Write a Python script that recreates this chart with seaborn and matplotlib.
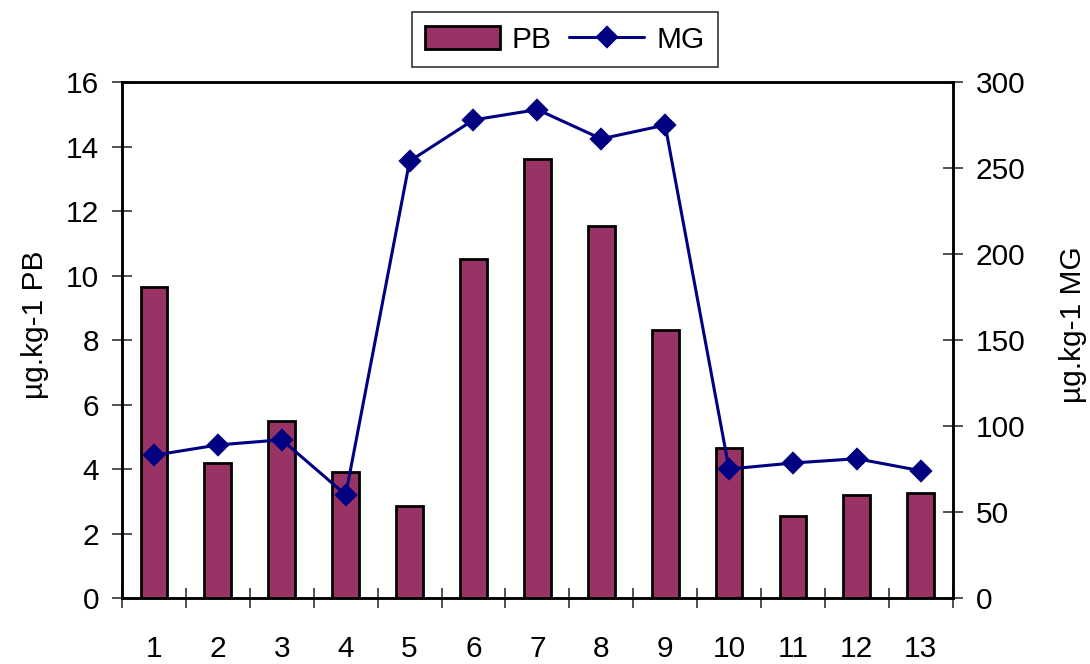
import matplotlib
matplotlib.use('Agg')
import matplotlib.pyplot as plt
import seaborn as sns
import numpy as np
import pandas as pd

# data
samples = ['1', '2', '3', '4', '5', '6', '7', '8', '9', '10', '11', '12', '13']
pb = [9.65, 4.2, 5.5, 3.9, 2.85, 10.5, 13.6, 11.55, 8.3, 4.65, 2.55, 3.2, 3.25]
mg = [83, 89, 92, 60, 254, 278, 284, 267, 275, 75, 78.5, 81, 74]

pb_ticks = [0, 2, 4, 6, 8, 10, 12, 14, 16]
mg_ticks = [0, 50, 100, 150, 200, 250, 300]

df = pd.DataFrame({'sample': samples, 'PB': pb, 'MG': mg})

sns.set_style('white')
plt.rcParams['font.family'] = ['Liberation Sans', 'DejaVu Sans']
plt.rcParams['text.color'] = 'black'
plt.rcParams['xtick.color'] = 'black'
plt.rcParams['ytick.color'] = 'black'
plt.rcParams['axes.labelcolor'] = 'black'
FS = 21.5

fig = plt.figure(figsize=(10.9, 6.64), dpi=100)
ax = fig.add_axes([0.112, 0.0994, 0.762, 0.777])

# bars (left axis)
sns.barplot(data=df, x='sample', y='PB', color='#993366', saturation=1,
            width=0.42, edgecolor='black', linewidth=2, label='PB', ax=ax)

# line (right axis)
ax2 = ax.twinx()
sns.pointplot(data=df, x='sample', y='MG', color='#000080', markers='D',
              markersize=10, linewidth=2.2, label='MG', ax=ax2)

ax.set_xlim(-0.5, len(samples) - 0.5)
ax2.set_xlim(-0.5, len(samples) - 0.5)
ax.set_ylim(0, 16)
ax2.set_ylim(0, 300)
ax.set_yticks(pb_ticks)
ax2.set_yticks(mg_ticks)

# tick marks between categories, labels at categories
ax.set_xticks(np.arange(len(samples) + 1) - 0.5, minor=True)
ax.tick_params(axis='x', which='major', length=0, pad=27, labelsize=FS)
ax.tick_params(axis='x', which='minor', direction='inout', length=15,
               width=1.2, color='#333333', bottom=True)
ax.tick_params(axis='y', direction='inout', length=15, width=1.2,
               color='#333333', pad=9, labelsize=FS, left=True)
ax2.tick_params(axis='y', direction='inout', length=15, width=1.2,
                color='#333333', pad=9, labelsize=FS, right=True)

ax.set_xlabel('')
ax.set_ylabel('µg.kg-1 PB', fontsize=FS)
ax2.set_ylabel('µg.kg-1 MG', fontsize=FS, rotation=90)
ax.yaxis.set_label_coords(-0.088, 0.53)
ax2.yaxis.set_label_coords(1.128, 0.53)

for a in (ax, ax2):
    for s in a.spines.values():
        s.set_visible(True)
        s.set_color('black')
        s.set_linewidth(1.8)

# combined legend on top
h1, l1 = ax.get_legend_handles_labels()
h2, l2 = ax2.get_legend_handles_labels()
for a in (ax, ax2):
    if a.get_legend() is not None:
        a.get_legend().remove()
leg = fig.legend(h1 + h2, l1 + l2, loc='center', bbox_to_anchor=(0.518, 0.94),
                 ncol=2, fontsize=FS, frameon=True, fancybox=False,
                 handlelength=2.5, handleheight=0.8, handletextpad=0.4,
                 columnspacing=0.6, borderpad=0.45, edgecolor='black')
leg.get_frame().set_linewidth(1.2)

fig.savefig('out.png', dpi=100)
